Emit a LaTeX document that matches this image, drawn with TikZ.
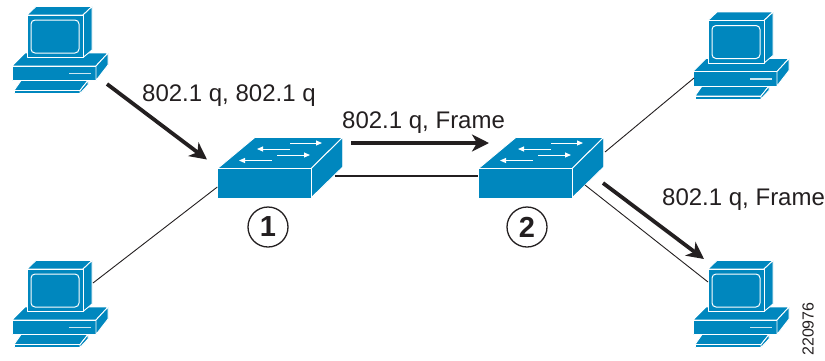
\documentclass[tikz,border=0pt]{standalone}
\usepackage{fontspec}
\usetikzlibrary{arrows.meta}
\setmainfont{Liberation Sans}
\definecolor{cisco}{RGB}{0,135,190}
\definecolor{ink}{RGB}{35,31,32}
\tikzset{
  x=1pt,y=-1pt,
  body/.style={fill=cisco,draw=white,line width=0.9pt,line join=round},
  glyph/.style={draw=white,line width=1pt,fill=none},
  link/.style={draw=ink,line width=0.9pt},
  trunk/.style={draw=ink,line width=2.2pt},
  flow/.style={draw=ink,line width=3.8pt,-{Triangle[length=17pt,width=17pt,inset=5pt]}},
  lbl/.style={text=ink,font=\fontsize{24}{26}\selectfont,inner sep=0pt,anchor=base west},
  numcircle/.style={circle,draw=ink,line width=1.3pt,minimum size=40pt,inner sep=0pt,text=ink,font=\fontsize{29}{30}\selectfont\bfseries},
  pcicon/.pic={
    \draw[body] (21,80.5)--(88,80.5)--(80,90.5)--(14,90.5)--cycle;
    \draw[body] (14,90.5)--(80,90.5)--(80,93.5)--(14,93.5)--cycle;
    \draw[body] (88,80.5)--(88,85)--(80,93.5)--(80,90.5)--cycle;
    \draw[body] (25,53)--(108,53)--(96,66)--(12,66)--cycle;
    \draw[body] (12,66)--(96,66)--(96,80.5)--(12,80.5)--cycle;
    \draw[body] (96,66)--(108,53)--(108,65)--(96,80.5)--cycle;
    \draw[glyph,line width=1.4pt,white!80!cisco] (69,73.5)--(91,73.5);
    \draw[body] (36,6.5)--(92,6.5)--(83,15)--(27,15)--cycle;
    \draw[body] (83,15)--(92,6.5)--(92,50)--(83,57.5)--cycle;
    \draw[body] (27,15)--(83,15)--(83,57.5)--(27,57.5)--cycle;
    \draw[glyph,rounded corners=4pt] (31,20) rectangle (79,53);
  },
  switchicon/.pic={
    \draw[body] (217.3,168.7)--(255,137.3)--(342.7,137.3)--(311,168.7)--cycle;
    \draw[body] (311,168.7)--(342.7,137.3)--(342.7,167)--(311,198)--cycle;
    \draw[body] (217.3,168.7)--(311,168.7)--(311,198)--(217.3,198)--cycle;
    \foreach \xa/\ya/\xb/\yb in {290/143/322/143, 290/149/257/149, 277/155/310/155, 272/160.5/239/160.5}
      \draw[white,line width=1pt,-{Triangle[length=6pt,width=5pt]}] (\xa,\ya)--(\xb,\yb);
  }
}
\begin{document}
\begin{tikzpicture}
\useasboundingbox (0,0) rectangle (825,360);
\pic at (0,0) {pcicon};
\pic at (0,254) {pcicon};
\pic at (681,5.5) {pcicon};
\pic at (681,254) {pcicon};
\pic at (0,0) {switchicon};
\pic at (261,0) {switchicon};

\coordinate (pcbl) at (93,283);
\coordinate (sa) at (217.3,187);
\coordinate (sar) at (335,176);
\coordinate (sbl) at (478.3,176);
\coordinate (sbt) at (605,152);
\coordinate (pctr) at (694,78);
\coordinate (sbb) at (585,185);
\coordinate (pcbr) at (708,282);
\coordinate (f1a) at (107,84);
\coordinate (f1b) at (207,159.5);
\coordinate (f2a) at (351,143);
\coordinate (f2b) at (489,143);
\coordinate (f3a) at (603,183);
\coordinate (f3b) at (704,259);

\draw[link] (pcbl)--(sa);
\draw[trunk] (sar)--(sbl);
\draw[link] (sbt)--(pctr);
\draw[link] (sbb)--(pcbr);
\draw[flow] (f1a)--(f1b);
\draw[flow] (f2a)--(f2b);
\draw[flow] (f3a)--(f3b);

\node[lbl] (t1) at (142,101) {802.1 q, 802.1 q};
\node[lbl] (t2) at (342,128) {802.1 q, Frame};
\node[lbl] (t3) at (662,205) {802.1 q, Frame};
\node[numcircle] (n1) at (268,227) {1};
\node[numcircle] (n2) at (527,227) {2};
\node[text=ink,font=\fontsize{16}{17}\selectfont,rotate=90,inner sep=0pt] (id) at (808,329) {220976};
\end{tikzpicture}
\end{document}
